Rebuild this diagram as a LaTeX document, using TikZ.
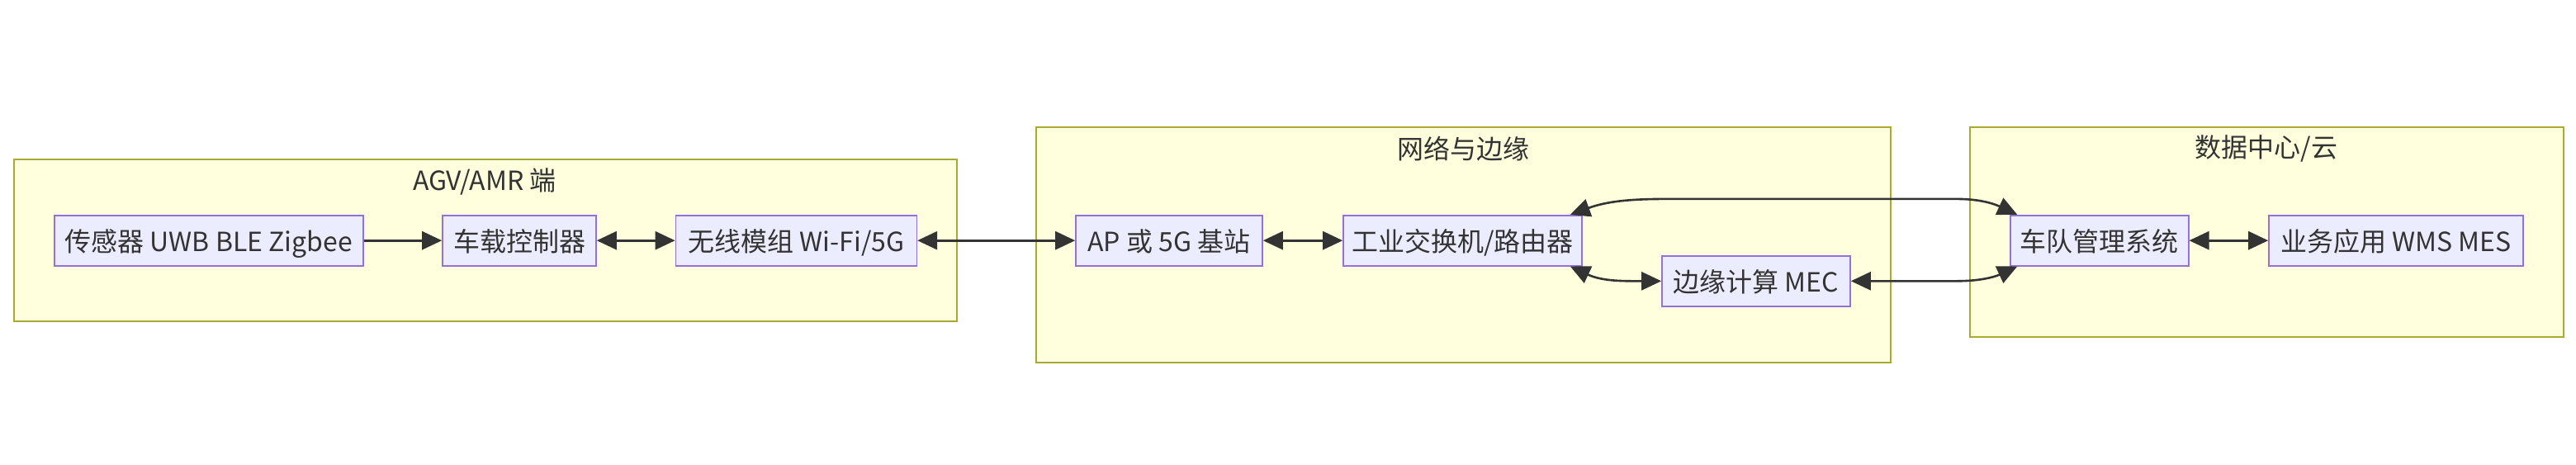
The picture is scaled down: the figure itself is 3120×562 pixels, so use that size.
\documentclass[tikz,border=0pt]{standalone}
\usepackage{fontspec}
\setmainfont{Noto Sans CJK SC}
\usetikzlibrary{arrows.meta}
\definecolor{clusterfill}{HTML}{FFFFDE}
\definecolor{clusterline}{HTML}{AAAA33}
\definecolor{boxfill}{HTML}{ECECFF}
\definecolor{boxline}{HTML}{9370DB}
\definecolor{ink}{HTML}{333333}

\begin{document}
\begin{tikzpicture}[x=0.5pt,y=-0.5pt,
  cluster/.style={draw=clusterline,fill=clusterfill,line width=0.8pt,inner sep=0pt},
  clustertitle/.style={text=ink,font=\fontsize{16}{19}\selectfont},
  block/.style={draw=boxline,fill=boxfill,line width=0.8pt,minimum height=30.5pt,
    inner xsep=0pt,inner ysep=0pt,text height=1.4em,text depth=0.06em,
    text=ink,font=\fontsize{16}{19}\selectfont},
  link/.style={draw=ink,line width=1.3pt,-{Triangle[length=12pt,width=11pt]}},
  duplex/.style={link,{Triangle[length=12pt,width=11pt]}-{Triangle[length=12pt,width=11pt]}}]
  \useasboundingbox[fill=white] (0,0) rectangle (3120,562);

  % subgraphs
  \node[cluster,minimum width=571pt,minimum height=98pt] (agv) at (588,291) {};
  \node[clustertitle] (agvtitle) at (587,220) {AGV/AMR 端};
  \node[cluster,minimum width=517.5pt,minimum height=142.5pt] (edge) at (1772.5,296.5) {};
  \node[clustertitle] (edgetitle) at (1772,180) {网络与边缘};
  \node[cluster,minimum width=359.5pt,minimum height=127pt] (cloud) at (2745.5,281) {};
  \node[clustertitle] (cloudtitle) at (2745,180) {数据中心/云};

  % devices
  \node[block,minimum width=187pt] (sensor) at (252.75,291.2) {传感器 UWB BLE Zigbee};
  \node[block,minimum width=93pt] (ctrl) at (629,291.2) {车载控制器};
  \node[block,minimum width=146pt] (radio) at (964.4,291.2) {无线模组 Wi-Fi/5G};
  \node[block,minimum width=113pt] (ap) at (1416,291.2) {AP 或 5G 基站};
  \node[block,minimum width=144.5pt] (switch) at (1771.5,291.2) {工业交换机/路由器};
  \node[block,minimum width=114pt] (mec) at (2127,340.3) {边缘计算 MEC};
  \node[block,minimum width=108pt] (fleet) at (2542.7,291.2) {车队管理系统};
  \node[block,minimum width=154pt] (wms) at (2902,291.2) {业务应用 WMS MES};

  % links
  \draw[link] (sensor) -- (ctrl);
  \draw[duplex] (ctrl) -- (radio);
  \draw[duplex] (radio) -- (ap);
  \draw[duplex] (ap) -- (switch);
  \draw[duplex] ([xshift=-7.5pt]switch.north east) to[out=20,in=180] ++(58pt,9.5pt)
    -- ([xshift=-32pt,yshift=9.5pt]fleet.north west) to[out=0,in=155] ([xshift=4.7pt]fleet.north west);
  \draw[duplex] ([xshift=-7.5pt]switch.south east) to[out=-25,in=180] (mec.west);
  \draw[duplex] (mec.east) -- ([xshift=-32pt]mec.east -| fleet.south west)
    to[out=0,in=-155] ([xshift=4.7pt]fleet.south west);
  \draw[duplex] (fleet) -- (wms);
\end{tikzpicture}
\end{document}
